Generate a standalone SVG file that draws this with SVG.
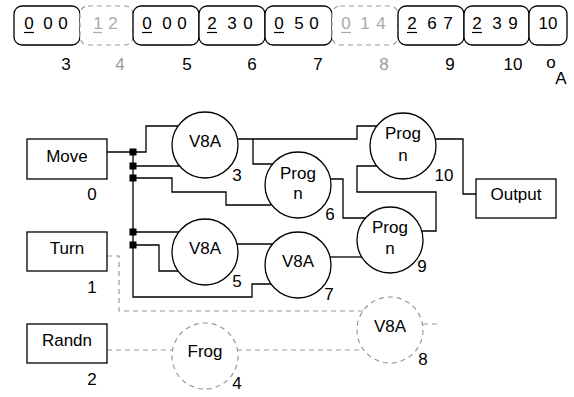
<svg xmlns="http://www.w3.org/2000/svg" width="574" height="397" viewBox="0 0 574 397">
<style>
text{font-family:"Liberation Sans",Arial,sans-serif;fill:#000}
.cell{fill:#fff;stroke:#000;stroke-width:1.3}
.gcell{fill:#fff;stroke:#999;stroke-width:1.2;stroke-dasharray:5 4}
.d{font-size:17px;text-anchor:middle}
.gd{font-size:17px;text-anchor:middle;fill:#aaa}
.ul{stroke:#000;stroke-width:1.2}
.gul{stroke:#aaa;stroke-width:1.2}
.lab{font-size:17px;text-anchor:middle}
.glab{font-size:17px;text-anchor:middle;fill:#999}
.box{fill:#fff;stroke:#000;stroke-width:1.3}
.circ{fill:#fff;stroke:#000;stroke-width:1.3}
.gcirc{fill:none;stroke:#999;stroke-width:1.2;stroke-dasharray:5 4}
.t{font-size:17px;text-anchor:middle}
.w{fill:none;stroke:#000;stroke-width:1.3}
.gw{fill:none;stroke:#999;stroke-width:1.2;stroke-dasharray:5 4}
.j{fill:#000}
</style>
<g id="genome">
<g id="cell3"><rect class="cell" x="14" y="6" width="66" height="39" rx="8"/><text class="d" x="29" y="29">0</text><text class="d" x="48" y="29">0</text><text class="d" x="63" y="29">0</text><line class="ul" x1="24" y1="32.5" x2="34" y2="32.5"/><text class="lab" x="66" y="70">3</text></g>
<g id="cell4"><rect class="gcell" x="80" y="6" width="53" height="39" rx="8"/><text class="gd" x="98" y="29">1</text><text class="gd" x="113" y="29">2</text><line class="gul" x1="93" y1="32.5" x2="102" y2="32.5"/><text class="glab" x="120" y="70">4</text></g>
<g id="cell5"><rect class="cell" x="133" y="6" width="66" height="39" rx="8"/><text class="d" x="147" y="29">0</text><text class="d" x="167" y="29">0</text><text class="d" x="182" y="29">0</text><line class="ul" x1="142" y1="32.5" x2="152" y2="32.5"/><text class="lab" x="187" y="70">5</text></g>
<g id="cell6"><rect class="cell" x="199" y="6" width="66" height="39" rx="8"/><text class="d" x="212" y="29">2</text><text class="d" x="232" y="29">3</text><text class="d" x="248" y="29">0</text><line class="ul" x1="207" y1="32.5" x2="217" y2="32.5"/><text class="lab" x="252" y="70">6</text></g>
<g id="cell7"><rect class="cell" x="265" y="6" width="67" height="39" rx="8"/><text class="d" x="279" y="29">0</text><text class="d" x="299" y="29">5</text><text class="d" x="314" y="29">0</text><line class="ul" x1="274" y1="32.5" x2="284" y2="32.5"/><text class="lab" x="318" y="70">7</text></g>
<g id="cell8"><rect class="gcell" x="332" y="6" width="66" height="39" rx="8"/><text class="gd" x="346" y="29">0</text><text class="gd" x="365" y="29">1</text><text class="gd" x="381" y="29">4</text><line class="gul" x1="341" y1="32.5" x2="351" y2="32.5"/><text class="glab" x="384" y="70">8</text></g>
<g id="cell9"><rect class="cell" x="398" y="6" width="66" height="39" rx="8"/><text class="d" x="412" y="29">2</text><text class="d" x="432" y="29">6</text><text class="d" x="448" y="29">7</text><line class="ul" x1="407" y1="32.5" x2="417" y2="32.5"/><text class="lab" x="450" y="70">9</text></g>
<g id="cell10"><rect class="cell" x="464" y="6" width="65" height="39" rx="8"/><text class="d" x="477" y="29">2</text><text class="d" x="497" y="29">3</text><text class="d" x="513" y="29">9</text><line class="ul" x1="472" y1="32.5" x2="482" y2="32.5"/><text class="lab" x="513" y="70">10</text></g>
<g id="cellA"><rect class="cell" x="529" y="6" width="38" height="39" rx="8"/><text class="d" x="548" y="29">10</text><text class="lab" x="551" y="68">o</text><text class="lab" x="561" y="84">A</text></g>
</g>
<g id="connectors">
<path class="w" d="M133,152 V297 H252 V284 H271"/>
<path class="w" d="M107,152 H146 V126 H178"/>
<path class="w" d="M133,166 H180"/>
<path class="w" d="M133,178 H172 V192 H226 V205 H271"/>
<path class="w" d="M133,232 H179"/>
<path class="w" d="M133,245 H159 V271 H179"/>
<path class="w" d="M237,139 H357 V126 H377"/>
<path class="w" d="M253,139 V164 H273"/>
<path class="w" d="M330,179 H343 V218 H366"/>
<path class="w" d="M237,244 H273"/>
<path class="w" d="M330,257 H362"/>
<path class="w" d="M422,231 H436 V192 H357 V166 H377"/>
<path class="w" d="M435,139 H463 V194 H476"/>
<path class="gw" d="M107,256 H119 V311 H363"/>
<path class="gw" d="M107,350 H173"/>
<path class="gw" d="M237,350 H364"/>
<path class="gw" d="M423,324 H437"/>
<rect class="j" x="129.5" y="148.5" width="7" height="7"/>
<rect class="j" x="129.5" y="162.5" width="7" height="7"/>
<rect class="j" x="129.5" y="174.5" width="7" height="7"/>
<rect class="j" x="129.5" y="228.5" width="7" height="7"/>
<rect class="j" x="129.5" y="241.5" width="7" height="7"/>
</g>
<g id="n0"><rect class="box" x="27" y="139" width="80" height="40"/><text class="t" x="67" y="162">Move</text><text class="lab" x="92" y="200">0</text></g>
<g id="n1"><rect class="box" x="27" y="232" width="80" height="39"/><text class="t" x="67" y="254">Turn</text><text class="lab" x="92" y="293">1</text></g>
<g id="n2"><rect class="box" x="27" y="324" width="80" height="39"/><text class="t" x="67" y="346">Randn</text><text class="lab" x="92" y="385">2</text></g>
<g id="n3"><circle class="circ" cx="205" cy="145" r="33"/><text class="t" x="205" y="147">V8A</text><text class="lab" x="237" y="181">3</text></g>
<g id="n4"><circle class="gcirc" cx="205" cy="356" r="33"/><text class="t" x="205" y="357">Frog</text><text class="lab" x="237" y="389">4</text></g>
<g id="n5"><circle class="circ" cx="205" cy="252" r="33"/><text class="t" x="205" y="254">V8A</text><text class="lab" x="237" y="287">5</text></g>
<g id="n6"><circle class="circ" cx="298" cy="185" r="33"/><text class="t" x="298" y="179">Prog</text><text class="t" x="298" y="199">n</text><text class="lab" x="330" y="220">6</text></g>
<g id="n7"><circle class="circ" cx="298" cy="265" r="33"/><text class="t" x="298" y="267">V8A</text><text class="lab" x="329" y="300">7</text></g>
<g id="n8"><circle class="gcirc" cx="390" cy="330" r="33"/><text class="t" x="390" y="332">V8A</text><text class="lab" x="423" y="365">8</text></g>
<g id="n9"><circle class="circ" cx="390" cy="240" r="33"/><text class="t" x="390" y="233">Prog</text><text class="t" x="390" y="254">n</text><text class="lab" x="422" y="272">9</text></g>
<g id="n10"><circle class="circ" cx="403" cy="146" r="33"/><text class="t" x="403" y="139">Prog</text><text class="t" x="403" y="161">n</text><text class="lab" x="444" y="181">10</text></g>
<g id="out"><rect class="box" x="476" y="179" width="80" height="39"/><text class="t" x="516" y="200">Output</text></g>
</svg>
